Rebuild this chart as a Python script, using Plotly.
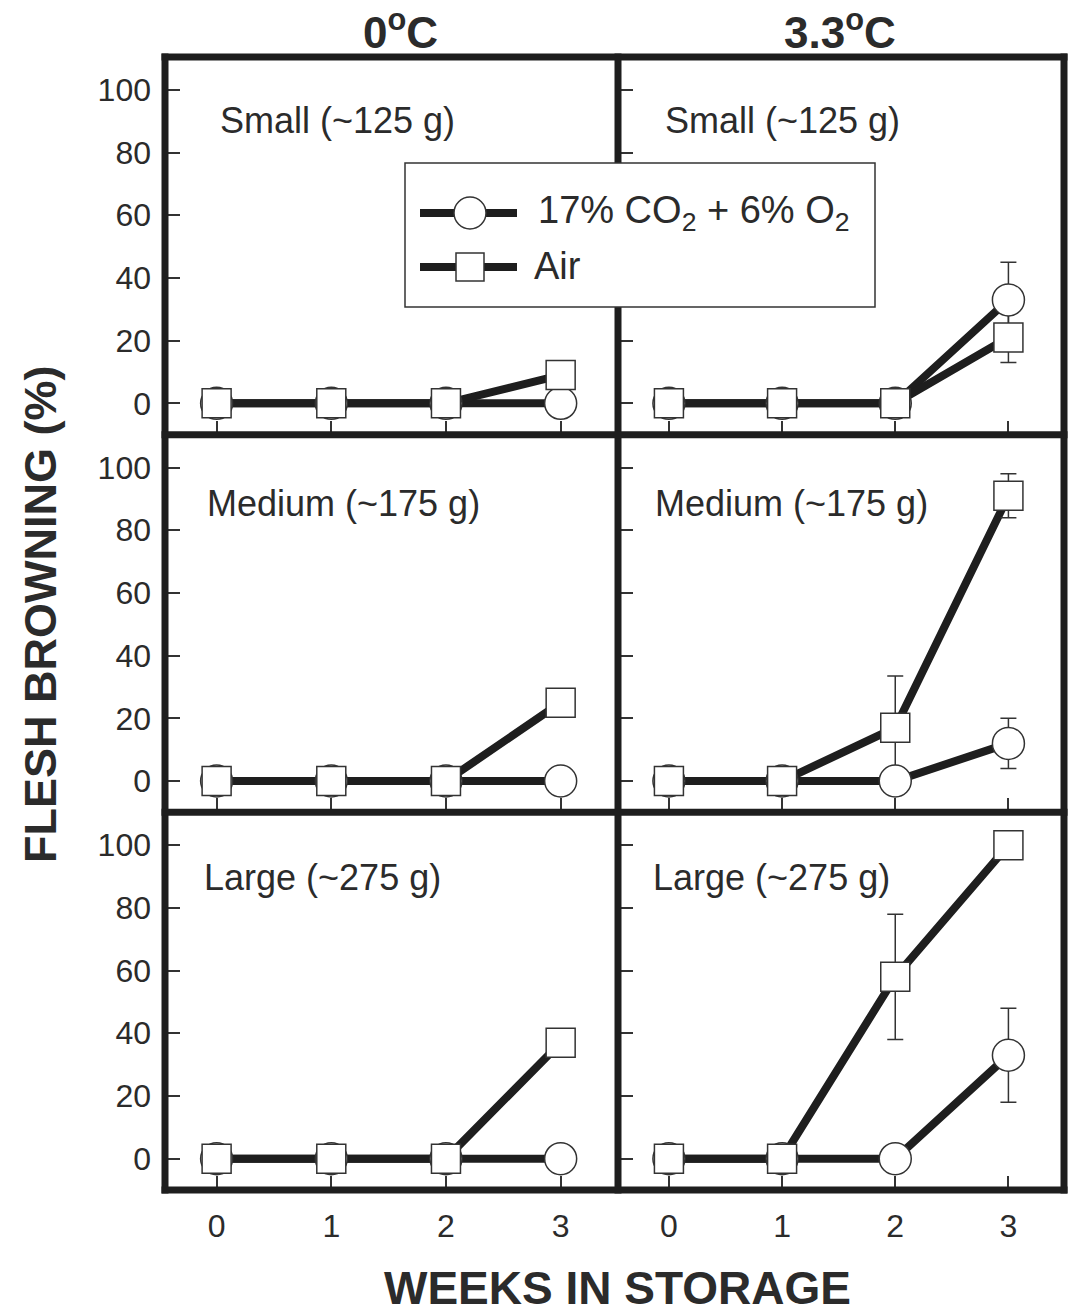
import plotly.graph_objects as go
from plotly.subplots import make_subplots

# ---------------- data ----------------
weeks = [0, 1, 2, 3]
temps = ["0<sup>o</sup>C", "3.3<sup>o</sup>C"]
sizes = ["Small (~125 g)", "Medium (~175 g)", "Large (~275 g)"]
series_names = ["17% CO<sub>2</sub> + 6% O<sub>2</sub>", "Air"]

# 17% CO2 + 6% O2 (circles)
ca_small_0 = [0, 0, 0, 0]
ca_small_33 = [0, 0, 0, 33]
ca_medium_0 = [0, 0, 0, 0]
ca_medium_33 = [0, 0, 0, 12]
ca_large_0 = [0, 0, 0, 0]
ca_large_33 = [0, 0, 0, 33]

ca_small_0_err = [0, 0, 0, 0]
ca_small_33_err = [0, 0, 0, 12]
ca_medium_0_err = [0, 0, 0, 0]
ca_medium_33_err = [0, 0, 0, 8]
ca_large_0_err = [0, 0, 0, 0]
ca_large_33_err = [0, 0, 0, 15]

# Air (squares)
air_small_0 = [0, 0, 0, 9]
air_small_33 = [0, 0, 0, 21]
air_medium_0 = [0, 0, 0, 25]
air_medium_33 = [0, 0, 17, 91]
air_large_0 = [0, 0, 0, 37]
air_large_33 = [0, 0, 58, 100]

air_small_0_err = [0, 0, 0, 4]
air_small_33_err = [0, 0, 0, 8]
air_medium_0_err = [0, 0, 0, 0]
air_medium_33_err = [0, 0, 16.5, 7]
air_large_0_err = [0, 0, 0, 0]
air_large_33_err = [0, 0, 20, 0]

y_ticks = [0, 20, 40, 60, 80, 100]
x_ticks = [0, 1, 2, 3]

ca = [[ca_small_0, ca_small_33], [ca_medium_0, ca_medium_33], [ca_large_0, ca_large_33]]
ca_err = [[ca_small_0_err, ca_small_33_err], [ca_medium_0_err, ca_medium_33_err],
          [ca_large_0_err, ca_large_33_err]]
air = [[air_small_0, air_small_33], [air_medium_0, air_medium_33], [air_large_0, air_large_33]]
air_err = [[air_small_0_err, air_small_33_err], [air_medium_0_err, air_medium_33_err],
           [air_large_0_err, air_large_33_err]]

# ---------------- figure ----------------
W, H = 1068, 1316
ML, MR, MT, MB = 165, 3, 57, 126
PW, PH = W - ML - MR, H - MT - MB
COLW = [453, PW - 453]

def px(x):
    return (x - ML) / PW

def py(y):
    return (H - MB - y) / PH

FONT = "Liberation Sans, Arial, sans-serif"
TXT = "#2b2b2b"
LINE = "#1e1e1e"

fig = make_subplots(rows=3, cols=2, horizontal_spacing=0, vertical_spacing=0,
                    column_widths=COLW)

for r in range(3):
    for c in range(2):
        row, col = r + 1, c + 1
        # lines
        fig.add_trace(go.Scatter(x=weeks, y=ca[r][c], mode="lines",
                                 line=dict(color=LINE, width=8), showlegend=False,
                                 hoverinfo="skip"), row=row, col=col)
        fig.add_trace(go.Scatter(x=weeks, y=air[r][c], mode="lines",
                                 line=dict(color=LINE, width=8), showlegend=False,
                                 hoverinfo="skip"), row=row, col=col)
        # error bars
        for vals, errs in ((ca[r][c], ca_err[r][c]), (air[r][c], air_err[r][c])):
            xs = [w for w, e in zip(weeks, errs) if e > 0]
            ys = [v for v, e in zip(vals, errs) if e > 0]
            es = [e for e in errs if e > 0]
            if xs:
                fig.add_trace(go.Scatter(x=xs, y=ys, mode="markers",
                                         marker=dict(size=1, color="rgba(0,0,0,0)"),
                                         error_y=dict(type="data", array=es, visible=True,
                                                      color="#333", thickness=1.5, width=8),
                                         showlegend=False, hoverinfo="skip"),
                              row=row, col=col)
        # markers
        fig.add_trace(go.Scatter(x=weeks, y=ca[r][c], mode="markers", name=series_names[0],
                                 marker=dict(symbol="circle", size=32, color="white",
                                             line=dict(color="#333", width=1.5)),
                                 showlegend=False), row=row, col=col)
        fig.add_trace(go.Scatter(x=weeks, y=air[r][c], mode="markers", name=series_names[1],
                                 marker=dict(symbol="square", size=29, color="white",
                                             line=dict(color="#333", width=1.5)),
                                 showlegend=False), row=row, col=col)

        fig.update_xaxes(row=row, col=col, range=[-0.45, 3.5], tickvals=x_ticks,
                         ticktext=[str(t) for t in x_ticks],
                         showticklabels=(r == 2), ticks="inside", ticklen=14,
                         tickwidth=1.5, tickcolor="#333", showline=False,
                         showgrid=False, zeroline=False, ticklabelstandoff=14,
                         tickfont=dict(family=FONT, size=32, color=TXT))
        fig.update_yaxes(row=row, col=col, range=[-10, 110.5], tickvals=y_ticks,
                         showticklabels=(c == 0), ticks="inside", ticklen=15,
                         tickwidth=1.5, tickcolor="#333", showline=False,
                         showgrid=False, zeroline=False, ticklabelstandoff=13,
                         tickfont=dict(family=FONT, size=32, color=TXT))

annotations = []
# column titles
for txt, xc in zip(temps, [400, 840]):
    annotations.append(dict(text="<b>" + txt + "</b>", x=px(xc), y=py(30), xref="paper",
                            yref="paper", showarrow=False, xanchor="center", yanchor="middle",
                            font=dict(family="Liberation Sans Narrow, " + FONT, size=44,
                                      color=TXT)))
# panel labels
label_pos = [[(218, 120), (663, 120)], [(205, 503), (653, 503)], [(202, 877), (651, 877)]]
for r in range(3):
    for c in range(2):
        x0, y0 = label_pos[r][c]
        annotations.append(dict(text=sizes[r], x=px(x0), y=py(y0), xref="paper", yref="paper",
                                showarrow=False, xanchor="left", yanchor="middle",
                                font=dict(family=FONT, size=36, color=TXT)))
# axis titles
annotations.append(dict(text="<b>FLESH BROWNING (%)</b>", x=px(40), y=py(615), xref="paper",
                        yref="paper", showarrow=False, textangle=-90, xanchor="center",
                        yanchor="middle", font=dict(family=FONT, size=45, color=TXT)))
annotations.append(dict(text="<b>WEEKS IN STORAGE</b>", x=px(617), y=py(1288), xref="paper",
                        yref="paper", showarrow=False, xanchor="center", yanchor="middle",
                        font=dict(family=FONT, size=46, color=TXT)))
# legend texts
annotations.append(dict(text=series_names[0], x=px(536), y=py(213), xref="paper",
                        yref="paper", showarrow=False, xanchor="left", yanchor="middle",
                        font=dict(family=FONT, size=38, color=TXT)))
annotations.append(dict(text=series_names[1], x=px(532), y=py(266), xref="paper",
                        yref="paper", showarrow=False, xanchor="left", yanchor="middle",
                        font=dict(family=FONT, size=38, color=TXT)))

# panel frame (thick borders)
FW = 7
xb = [ML, ML + COLW[0], ML + PW - 1]
yb = [MT, MT + PH / 3, MT + 2 * PH / 3, MT + PH]
shapes = []
for xv in xb:
    shapes.append(dict(type="line", xref="paper", yref="paper", x0=px(xv), x1=px(xv),
                       y0=py(yb[0] - FW / 2), y1=py(yb[-1] + FW / 2),
                       line=dict(color=LINE, width=FW), layer="above"))
for yv in yb:
    shapes.append(dict(type="line", xref="paper", yref="paper", x0=px(xb[0] - FW / 2),
                       x1=px(xb[-1] + FW / 2), y0=py(yv), y1=py(yv),
                       line=dict(color=LINE, width=FW), layer="above"))

# legend (drawn on top of the frame)
shapes += [
    dict(type="rect", xref="paper", yref="paper", x0=px(405), x1=px(875), y0=py(307),
         y1=py(163), line=dict(color="#333", width=1.5), fillcolor="white", layer="above"),
    dict(type="line", xref="paper", yref="paper", x0=px(420), x1=px(517), y0=py(213),
         y1=py(213), line=dict(color=LINE, width=8), layer="above"),
    dict(type="circle", xref="paper", yref="paper", x0=px(454), x1=px(486), y0=py(229),
         y1=py(197), line=dict(color="#333", width=1.5), fillcolor="white", layer="above"),
    dict(type="line", xref="paper", yref="paper", x0=px(420), x1=px(517), y0=py(267),
         y1=py(267), line=dict(color=LINE, width=8), layer="above"),
    dict(type="rect", xref="paper", yref="paper", x0=px(456), x1=px(484), y0=py(281),
         y1=py(253), line=dict(color="#333", width=1.5), fillcolor="white", layer="above"),
]

fig.update_layout(width=W, height=H, margin=dict(l=ML, r=MR, t=MT, b=MB),
                  paper_bgcolor="white", plot_bgcolor="white", showlegend=False,
                  annotations=annotations, shapes=shapes,
                  font=dict(family=FONT, color=TXT))

fig.write_html("out.html")
